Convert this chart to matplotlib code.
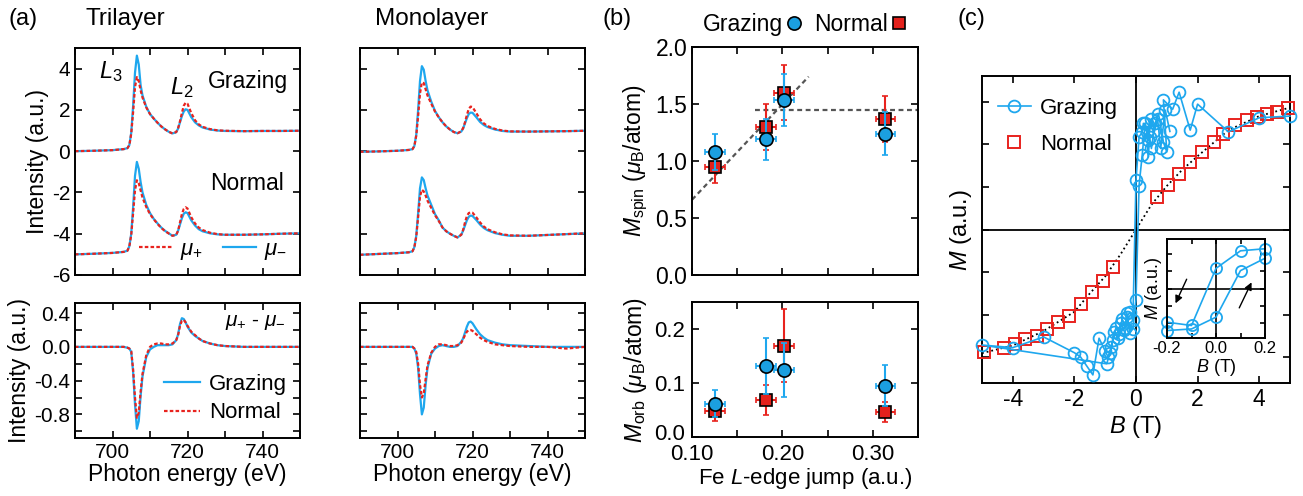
import matplotlib
matplotlib.use("Agg")
import matplotlib.pyplot as plt
from matplotlib.ticker import MultipleLocator
from matplotlib.lines import Line2D
from matplotlib.transforms import ScaledTranslation

plt.rcParams['font.family'] = ['Liberation Sans', 'DejaVu Sans']
plt.rcParams['mathtext.fontset'] = 'custom'
plt.rcParams['mathtext.rm'] = 'Liberation Sans'
plt.rcParams['mathtext.it'] = 'Liberation Sans:italic'
plt.rcParams['mathtext.bf'] = 'Liberation Sans:bold'
plt.rcParams['axes.unicode_minus'] = False

BLUE = '#1ea7ee'
RED = '#e8231e'
BLUE_M = '#1b9fe0'
RED_M = '#e3211c'

# ---- (a) XAS / XMCD spectra ----
energy = [690, 695, 700, 703, 704, 704.5, 705, 705.5, 706, 706.5, 707, 707.5, 708, 709, 710,
          711, 712, 713, 714, 715, 716, 717, 717.5, 718, 718.5, 719, 719.5, 720, 721, 722,
          723, 724, 726, 728, 730, 735, 740, 745, 750]

tri_gr_minus = [0.0, 0.02, 0.05, 0.1, 0.15, 0.3, 0.9, 2.2, 3.8, 4.63, 4.2, 3.2, 2.7, 2.15, 1.8,
                1.58, 1.38, 1.2, 1.06, 0.94, 0.86, 0.92, 1.1, 1.4, 1.7, 1.92, 2.03, 2.0, 1.65, 1.4,
                1.25, 1.15, 1.05, 1.0, 0.98, 0.97, 0.98, 0.98, 0.99]
tri_gr_plus = [0.0, 0.02, 0.05, 0.1, 0.15, 0.3, 0.85, 1.9, 3.1, 3.59, 3.4, 2.95, 2.6, 2.12, 1.8,
               1.58, 1.38, 1.2, 1.06, 0.94, 0.86, 0.93, 1.12, 1.45, 1.85, 2.2, 2.35, 2.3, 1.85, 1.5,
               1.3, 1.18, 1.07, 1.01, 0.99, 0.97, 0.98, 0.98, 0.99]
tri_no_minus = [-5.0, -4.97, -4.93, -4.88, -4.82, -4.6, -4.0, -2.7, -1.2, -0.52, -0.85, -1.5, -2.0, -2.6, -3.0,
                -3.28, -3.5, -3.7, -3.86, -3.98, -4.1, -4.05, -3.85, -3.55, -3.25, -3.03, -2.96, -3.0, -3.35, -3.6,
                -3.78, -3.88, -3.98, -4.03, -4.05, -4.05, -4.03, -4.0, -3.98]
tri_no_plus = [-5.0, -4.97, -4.93, -4.88, -4.82, -4.6, -4.05, -3.0, -1.9, -1.41, -1.55, -1.9, -2.25, -2.7, -3.05,
               -3.3, -3.52, -3.72, -3.87, -3.99, -4.1, -4.05, -3.85, -3.45, -3.05, -2.8, -2.72, -2.78, -3.2, -3.5,
               -3.7, -3.82, -3.95, -4.02, -4.05, -4.05, -4.03, -4.0, -3.98]

mono_gr_minus = [-0.03, -0.01, 0.02, 0.06, 0.1, 0.25, 0.8, 2.0, 3.4, 4.12, 3.95, 3.4, 2.95, 2.4, 1.95,
                 1.65, 1.4, 1.2, 1.05, 0.93, 0.87, 0.95, 1.1, 1.35, 1.6, 1.8, 1.87, 1.86, 1.65, 1.42,
                 1.27, 1.17, 1.05, 0.98, 0.95, 0.95, 0.96, 0.97, 0.99]
mono_gr_plus = [-0.03, -0.01, 0.02, 0.06, 0.1, 0.25, 0.75, 1.7, 2.8, 3.33, 3.3, 3.0, 2.7, 2.3, 1.92,
                1.64, 1.4, 1.2, 1.05, 0.93, 0.87, 0.96, 1.12, 1.4, 1.75, 2.05, 2.16, 2.14, 1.85, 1.55,
                1.35, 1.22, 1.08, 1.0, 0.96, 0.95, 0.96, 0.97, 0.99]
mono_no_minus = [-5.02, -4.98, -4.94, -4.9, -4.85, -4.65, -4.1, -3.0, -1.8, -1.27, -1.4, -1.8, -2.15, -2.6, -3.05,
                 -3.35, -3.7, -3.88, -4.0, -4.1, -4.18, -4.05, -3.85, -3.6, -3.35, -3.18, -3.12, -3.14, -3.33, -3.55,
                 -3.72, -3.83, -3.97, -4.05, -4.1, -4.1, -4.06, -4.02, -3.98]
mono_no_plus = [-5.02, -4.98, -4.94, -4.9, -4.85, -4.65, -4.15, -3.2, -2.2, -1.87, -1.95, -2.15, -2.4, -2.75, -3.1,
                -3.38, -3.7, -3.88, -4.0, -4.1, -4.18, -4.05, -3.82, -3.45, -3.15, -3.0, -2.96, -2.98, -3.2, -3.45,
                -3.65, -3.78, -3.93, -4.03, -4.08, -4.1, -4.06, -4.02, -3.98]

tri_xmcd_gr = [0, 0, 0, 0, -0.01, -0.02, -0.06, -0.3, -0.68, -0.97, -0.88, -0.58, -0.35, -0.12, -0.03,
               0.0, 0.02, 0.02, 0.02, 0.02, 0.03, 0.08, 0.15, 0.27, 0.34, 0.33, 0.29, 0.24, 0.17, 0.13,
               0.1, 0.07, 0.04, 0.02, 0.01, 0.0, 0.0, 0.0, 0.0]
tri_xmcd_no = [0, 0, 0, 0, -0.01, -0.02, -0.05, -0.27, -0.6, -0.84, -0.78, -0.53, -0.32, -0.1, 0.0,
               0.03, 0.04, 0.04, 0.03, 0.03, 0.04, 0.08, 0.14, 0.25, 0.31, 0.32, 0.29, 0.25, 0.18, 0.14,
               0.1, 0.07, 0.04, 0.02, 0.01, 0.0, 0.0, 0.0, 0.0]
mono_xmcd_gr = [0, 0, 0, 0, 0, -0.02, -0.08, -0.25, -0.56, -0.8, -0.72, -0.45, -0.25, -0.08, -0.02,
                0.01, 0.02, 0.01, 0.0, 0.0, 0.01, 0.06, 0.1, 0.17, 0.24, 0.29, 0.3, 0.28, 0.21, 0.15,
                0.11, 0.08, 0.05, 0.03, 0.02, 0.01, 0.0, 0.0, 0.0]
mono_xmcd_no = [0, 0, 0, 0, 0, -0.02, -0.06, -0.2, -0.45, -0.6, -0.55, -0.38, -0.22, -0.07, 0.0,
                0.03, 0.03, 0.02, 0.01, 0.01, 0.02, 0.05, 0.09, 0.14, 0.18, 0.2, 0.2, 0.19, 0.15, 0.11,
                0.08, 0.06, 0.03, 0.02, 0.01, 0.0, 0.0, -0.02, 0.0]

# ---- (b) moments vs Fe L-edge jump ----
edge_jump = [0.125, 0.182, 0.202, 0.314]
jump_err = [0.011, 0.011, 0.011, 0.011]
spin_gr = [1.08, 1.19, 1.535, 1.24]
spin_gr_err = [0.16, 0.18, 0.23, 0.19]
spin_no = [0.945, 1.30, 1.60, 1.37]
spin_no_err = [0.14, 0.2, 0.24, 0.2]
orb_gr = [0.062, 0.131, 0.125, 0.095]
orb_gr_err = [0.025, 0.052, 0.05, 0.038]
orb_no = [0.049, 0.069, 0.169, 0.046]
orb_no_err = [0.02, 0.028, 0.068, 0.018]
fit_lin_x = [0.10, 0.229]
fit_lin_y = [0.66, 1.74]
fit_sat_x = [0.17, 0.35]
fit_sat_y = [1.45, 1.45]

# ---- (c) M(B) loops ----
normal_B = [-4.93, -4.3, -3.94, -3.59, -3.23, -2.88, -2.52, -2.16, -1.8, -1.44, -1.08, -0.74,
            0.67, 1.05, 1.38, 1.76, 2.14, 2.52, 2.84, 3.22, 3.6, 3.92, 4.25, 4.58, 4.95]
normal_M = [-2.88, -2.78, -2.69, -2.57, -2.49, -2.34, -2.18, -2.02, -1.75, -1.47, -1.2, -0.89,
            0.76, 1.04, 1.31, 1.58, 1.82, 2.05, 2.25, 2.45, 2.56, 2.64, 2.72, 2.76, 2.84]
fit_B = [-5, -4, -3, -2, -1.5, -1, -0.5, 0, 0.5, 1, 1.5, 2, 3, 4, 5]
fit_M = [-2.9, -2.72, -2.38, -1.93, -1.5, -1.1, -0.58, 0, 0.58, 1.02, 1.4, 1.72, 2.33, 2.66, 2.86]
graz_B = [5.0, 4.0, 3.0, 2.0, 1.76, 1.4, 1.19, 0.89, 1.0, 0.89, 0.73, 0.62, 0.5, 0.44, 0.4,
          0.35, 0.24, 0.2, 0.1, 0.0, -0.1, -0.2, -0.3, -0.4, -0.5, -0.6, -0.7, -0.8, -0.9, -1.0,
          -1.2, -1.4, -1.6, -1.8, -2.0, -3.0, -4.0, -5.0, -0.95, -0.85, -0.75, -0.65, -0.55, -0.45,
          -0.35, -0.3, -0.2, -0.1, 0.0, 0.1, 0.2, 0.3, 0.4, 0.5, 0.6, 0.7, 0.8, 0.95, 1.1]
graz_M = [2.66, 2.62, 2.29, 2.94, 2.33, 3.22, 2.82, 3.04, 1.82, 2.05, 2.72, 2.49, 1.9, 2.17, 1.7,
          2.29, 2.49, 2.29, 2.17, 1.16, -2.13, -1.94, -2.05, -2.35, -2.2, -2.55, -2.4, -2.75, -3.0, -2.85,
          -2.55, -3.41, -3.2, -2.99, -2.89, -2.52, -2.77, -2.71, -3.15, -2.9, -2.6, -2.3, -2.45, -2.1,
          -2.3, -1.95, -2.42, -2.33, -1.65, 1.03, 1.74, 2.5, 2.1, 2.6, 2.3, 2.6, 1.9, 2.8, 2.3]
inset_B = [0.2, 0.1, 0.0, -0.1, -0.2, -0.2, -0.1, 0.0, 0.1, 0.2]
inset_M = [2.29, 2.17, 1.16, -2.13, -1.94, -2.42, -2.33, -1.65, 1.03, 1.74]


def frame(ax, size):
    ax.tick_params(which='both', direction='in', top=True, right=True,
                   length=5, width=1.2, labelsize=size)
    for s in ax.spines.values():
        s.set_linewidth(1.4)


W, H = 1303, 496
fig = plt.figure(figsize=(W / 100, H / 100), dpi=100)


def box(l, t, r, b):
    return [l / W, 1 - b / H, (r - l) / W, (b - t) / H]


dash = (1.6, 1.0)

# (a) spectra
for i, (gm, gp, nm, np_, xg, xn) in enumerate([
        (tri_gr_minus, tri_gr_plus, tri_no_minus, tri_no_plus, tri_xmcd_gr, tri_xmcd_no),
        (mono_gr_minus, mono_gr_plus, mono_no_minus, mono_no_plus, mono_xmcd_gr, mono_xmcd_no)]):
    left = 75 if i == 0 else 360
    ax = fig.add_axes(box(left, 48, left + 225, 275))
    ax.plot(energy, gm, color=BLUE, lw=1.6)
    ax.plot(energy, gp, color=RED, lw=1.6, dashes=dash)
    ax.plot(energy, nm, color=BLUE, lw=1.6)
    ax.plot(energy, np_, color=RED, lw=1.6, dashes=dash)
    ax.set_xlim(690, 750)
    ax.set_ylim(-6, 5)
    ax.set_yticks([-6, -4, -2, 0, 2, 4])
    ax.xaxis.set_major_locator(MultipleLocator(20))
    ax.xaxis.set_minor_locator(MultipleLocator(10))
    frame(ax, 15)
    ax.tick_params(labelbottom=False)
    if i == 0:
        ax.set_ylabel('Intensity (a.u.)', fontsize=16.5, labelpad=2)
        ax.text(699.5, 3.85, r'$L_3$', fontsize=17, ha='center', va='center')
        ax.text(718.5, 3.1, r'$L_2$', fontsize=17, ha='center', va='center')
        ax.text(736, 3.4, 'Grazing', fontsize=16.5, ha='center', va='center')
        ax.text(736, -1.55, 'Normal', fontsize=16.5, ha='center', va='center')
        hs = [Line2D([], [], color=RED, lw=1.6, dashes=dash), Line2D([], [], color=BLUE, lw=1.6)]
        ax.legend(hs, [r'$\mu_{+}$', r'$\mu_{\rm{-}}$'], ncol=2, loc='lower right',
                  bbox_to_anchor=(1.03, -0.03), frameon=False, fontsize=16,
                  handlelength=1.5, handletextpad=0.35, columnspacing=0.9)
    else:
        ax.tick_params(labelleft=False)

    ax2 = fig.add_axes(box(left, 303, left + 225, 438))
    ax2.plot(energy, xg, color=BLUE, lw=1.6)
    ax2.plot(energy, xn, color=RED, lw=1.6, dashes=dash)
    ax2.set_xlim(690, 750)
    ax2.set_ylim(-1.08, 0.52)
    ax2.yaxis.set_major_locator(MultipleLocator(0.4))
    ax2.yaxis.set_minor_locator(MultipleLocator(0.2))
    ax2.xaxis.set_major_locator(MultipleLocator(20))
    ax2.xaxis.set_minor_locator(MultipleLocator(10))
    ax2.yaxis.set_major_formatter(plt.FormatStrFormatter('%.1f'))
    frame(ax2, 15)
    ax2.set_xlabel('Photon energy (eV)', fontsize=16.5, labelpad=1)
    if i == 0:
        ax2.set_ylabel('Intensity (a.u.)', fontsize=16.5, labelpad=2)
        ax2.text(738, 0.29, r'$\mu_{+}$ - $\mu_{\rm{-}}$', fontsize=15, ha='center', va='center')
        ax2.legend([Line2D([], [], color=BLUE, lw=1.6), Line2D([], [], color=RED, lw=1.6, dashes=dash)],
                   ['Grazing', 'Normal'], loc='lower right', bbox_to_anchor=(1.03, -0.04),
                   frameon=False, fontsize=16, handlelength=1.6, handletextpad=0.4, labelspacing=0.35)
    else:
        ax2.tick_params(labelleft=False)

# (b) moments
axb = fig.add_axes(box(692, 47, 918, 275))
axb.plot(fit_lin_x, fit_lin_y, color='#555555', lw=1.6, dashes=(2.2, 1.6), zorder=1)
axb.plot(fit_sat_x, fit_sat_y, color='#555555', lw=1.6, dashes=(2.2, 1.6), zorder=1)
axb.errorbar(edge_jump, spin_no, yerr=spin_no_err, xerr=jump_err, fmt='s', ms=9, mfc=RED_M, mec='k',
             mew=1.2, ecolor=RED, elinewidth=1.5, capsize=2.5, capthick=1.5, zorder=2)
axb.errorbar(edge_jump, spin_gr, yerr=spin_gr_err, xerr=jump_err, fmt='o', ms=9.5, mfc=BLUE_M, mec='k',
             mew=1.2, ecolor=BLUE, elinewidth=1.5, capsize=2.5, capthick=1.5, zorder=3)
axb.set_xlim(0.10, 0.35)
axb.set_ylim(0, 2.0)
axb.xaxis.set_major_locator(MultipleLocator(0.1))
axb.xaxis.set_minor_locator(MultipleLocator(0.05))
axb.yaxis.set_major_locator(MultipleLocator(0.5))
axb.yaxis.set_major_formatter(plt.FormatStrFormatter('%.1f'))
frame(axb, 16.5)
axb.tick_params(labelbottom=False)
axb.set_ylabel(r'$M_{\rm spin}$ ($\mu_{\rm B}$/atom)', fontsize=16.5, labelpad=4)
hb = [Line2D([], [], ls='none', marker='o', ms=9.5, mfc=BLUE_M, mec='k', mew=1.2),
      Line2D([], [], ls='none', marker='s', ms=9, mfc=RED_M, mec='k', mew=1.2)]
axb.legend(hb, ['Grazing', 'Normal'], ncol=2, markerfirst=False, loc='lower center',
           bbox_to_anchor=(0.5, 1.0), frameon=False, fontsize=16.5, handlelength=0.7,
           handletextpad=0.15, columnspacing=0.5, borderaxespad=0.1)

axb2 = fig.add_axes(box(692, 302, 918, 437))
axb2.errorbar(edge_jump, orb_no, yerr=orb_no_err, xerr=jump_err, fmt='s', ms=9, mfc=RED_M, mec='k',
              mew=1.2, ecolor=RED, elinewidth=1.5, capsize=2.5, capthick=1.5, zorder=2)
axb2.errorbar(edge_jump, orb_gr, yerr=orb_gr_err, xerr=jump_err, fmt='o', ms=9.5, mfc=BLUE_M, mec='k',
              mew=1.2, ecolor=BLUE, elinewidth=1.5, capsize=2.5, capthick=1.5, zorder=3)
axb2.set_xlim(0.10, 0.35)
axb2.set_ylim(0, 0.25)
axb2.xaxis.set_major_locator(MultipleLocator(0.1))
axb2.xaxis.set_minor_locator(MultipleLocator(0.05))
axb2.set_yticks([0.0, 0.1, 0.2])
axb2.set_yticklabels(['0.0', '0.1', '0.2'])
axb2.xaxis.set_major_formatter(plt.FormatStrFormatter('%.2f'))
frame(axb2, 16)
axb2.tick_params(axis='x', pad=5)
axb2.tick_params(axis='y', pad=5)
# lift the "0.0" label a little so it clears the "0.10" below it
lab0 = axb2.yaxis.get_major_ticks()[0].label1
lab0.set_transform(lab0.get_transform() + ScaledTranslation(0, 0.05, fig.dpi_scale_trans))
axb2.set_ylabel(r'$M_{\rm orb}$ ($\mu_{\rm B}$/atom)', fontsize=16.5, labelpad=4)
axb2.set_xlabel(r'Fe $L$-edge jump (a.u.)', fontsize=16, labelpad=0.5)

# (c) hysteresis
axc = fig.add_axes(box(982, 76, 1290, 383))
axc.axvline(0, color='k', lw=1.3, zorder=1)
axc.axhline(0, color='k', lw=1.3, zorder=1)
axc.plot(fit_B, fit_M, color='k', lw=1.3, ls=':', zorder=2)
axc.plot(normal_B, normal_M, ls='none', marker='s', ms=8.5, mfc='none', mec=RED, mew=1.4,
         zorder=3, clip_on=False, label='Normal')
axc.plot(graz_B, graz_M, color=BLUE, lw=1.2, marker='o', ms=8.5, mfc='none', mec=BLUE, mew=1.3,
         zorder=4, clip_on=False, label='Grazing')
axc.set_xlim(-5, 5)
axc.set_ylim(-3.6, 3.6)
axc.set_xticks([-4, -2, 0, 2, 4])
axc.set_yticks([-3, -2, -1, 0, 1, 2, 3])
frame(axc, 16.5)
axc.tick_params(labelleft=False)
axc.set_xlabel(r'$B$ (T)', fontsize=17, labelpad=2)
axc.set_ylabel(r'$M$ (a.u.)', fontsize=17, labelpad=6)
hc, lc = axc.get_legend_handles_labels()
axc.legend(hc[::-1], lc[::-1], loc='upper left', frameon=False, fontsize=16,
           handlelength=1.5, handletextpad=0.4, labelspacing=0.7, borderaxespad=0.3,
           bbox_to_anchor=(0.0, 0.98))

axi = fig.add_axes(box(1167, 239, 1265, 338))
axi.set_zorder(5)
axi.set_facecolor('white')
axi.axvline(0, color='k', lw=1.2)
axi.axhline(0, color='k', lw=1.2)
axi.plot(inset_B, inset_M, color=BLUE, lw=1.2, marker='o', ms=8, mfc='none', mec=BLUE, mew=1.3,
         clip_on=False)
axi.set_xlim(-0.2, 0.2)
axi.set_ylim(-2.85, 2.85)
axi.xaxis.set_major_locator(MultipleLocator(0.2))
axi.xaxis.set_minor_locator(MultipleLocator(0.1))
axi.set_yticks([-2, -1, 0, 1, 2])
axi.xaxis.set_major_formatter(plt.FormatStrFormatter('%.1f'))
frame(axi, 12)
axi.tick_params(which='both', length=3.5, pad=2)
axi.tick_params(labelleft=False)
axi.set_xlabel(r'$B$ (T)', fontsize=13, labelpad=1)
axi.set_ylabel(r'$M$ (a.u.)', fontsize=13, labelpad=2)
axi.annotate('', xy=(-0.17, -1.0), xytext=(-0.115, 0.68),
             arrowprops=dict(arrowstyle='-|>', color='k', lw=1.0, mutation_scale=11))
axi.annotate('', xy=(0.15, 0.5), xytext=(0.09, -1.26),
             arrowprops=dict(arrowstyle='-|>', color='k', lw=1.0, mutation_scale=11))

# panel labels and titles
fig.text(9 / W, 1 - 19 / H, '(a)', fontsize=17, va='center')
fig.text(85 / W, 1 - 19 / H, 'Trilayer', fontsize=17.5, va='center')
fig.text(375 / W, 1 - 19 / H, 'Monolayer', fontsize=17.5, va='center')
fig.text(603 / W, 1 - 19 / H, '(b)', fontsize=17, va='center')
fig.text(958 / W, 1 - 19 / H, '(c)', fontsize=17, va='center')

fig.savefig('out.png', dpi=100)
